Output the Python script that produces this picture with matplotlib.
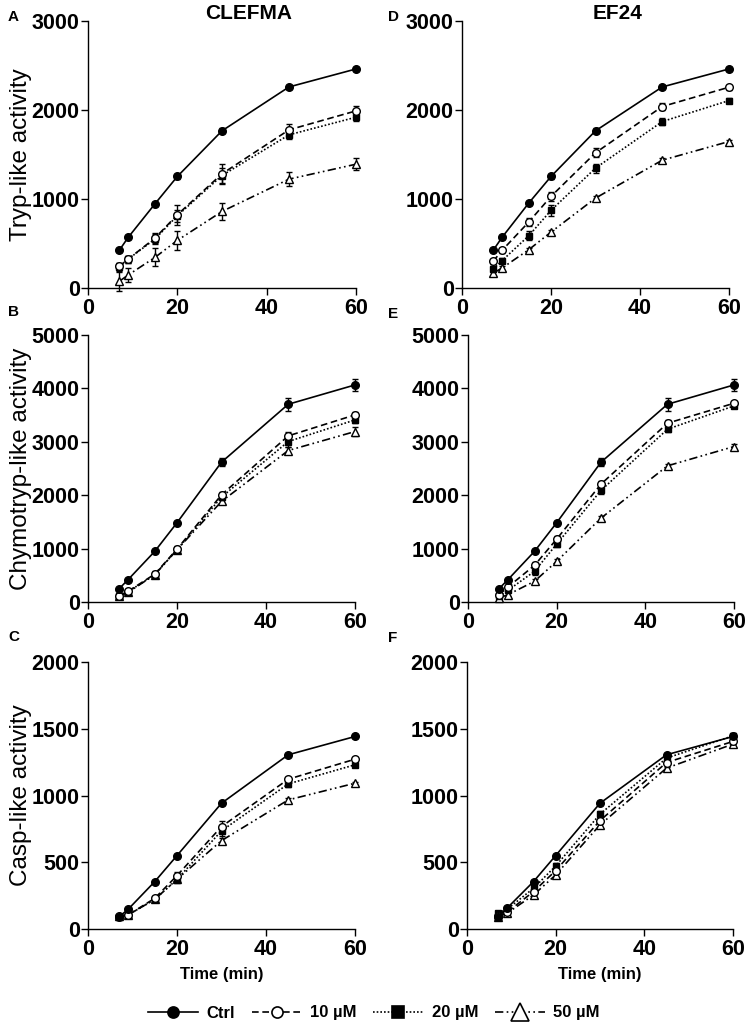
import numpy as np
import matplotlib
matplotlib.use("Agg")
import matplotlib.pyplot as plt
from matplotlib.lines import Line2D
from matplotlib.legend_handler import HandlerLine2D

plt.rcParams['font.family'] = ['Liberation Sans', 'DejaVu Sans']

# time points (min)
time = [7, 9, 15, 20, 30, 45, 60]
groups = ['Ctrl', '10 \u00b5M', '20 \u00b5M', '50 \u00b5M']

# rows: Ctrl, 10 uM, 20 uM, 50 uM
tryp_clefma = [[423, 569, 946, 1253, 1766, 2259, 2461],
               [243, 325, 561, 823, 1283, 1777, 1990],
               [236, 325, 550, 812, 1264, 1721, 1919],
               [75, 146, 344, 535, 860, 1223, 1391]]
tryp_clefma_err = [[15, 15, 25, 30, 30, 20, 20],
                   [40, 40, 60, 110, 110, 70, 55],
                   [40, 40, 60, 70, 80, 50, 40],
                   [110, 80, 100, 110, 100, 80, 70]]

tryp_ef24 = [[423, 569, 954, 1253, 1766, 2259, 2461],
             [299, 423, 741, 1029, 1519, 2039, 2256],
             [213, 307, 587, 872, 1347, 1870, 2106],
             [168, 224, 430, 628, 1010, 1436, 1646]]
tryp_ef24_err = [[15, 15, 25, 30, 30, 20, 20],
                 [30, 30, 40, 50, 50, 40, 30],
                 [30, 30, 50, 60, 50, 40, 30],
                 [20, 20, 20, 20, 20, 20, 20]]

chymo_clefma = [[249, 418, 948, 1484, 2618, 3703, 4065],
                [118, 200, 522, 990, 2007, 3111, 3504],
                [118, 193, 511, 979, 1964, 3005, 3410],
                [106, 180, 511, 979, 1883, 2837, 3192]]
chymo_clefma_err = [[20, 20, 20, 20, 80, 120, 110],
                    [30, 30, 50, 50, 60, 80, 60],
                    [30, 30, 50, 50, 60, 100, 60],
                    [30, 30, 40, 40, 40, 60, 80]]

chymo_ef24 = [[249, 418, 948, 1484, 2618, 3703, 4065],
              [137, 280, 686, 1178, 2207, 3348, 3722],
              [106, 218, 574, 1085, 2089, 3236, 3672],
              [75, 137, 387, 761, 1571, 2550, 2911]]
chymo_ef24_err = [[20, 20, 20, 20, 80, 120, 110],
                  [30, 40, 60, 60, 60, 60, 40],
                  [30, 40, 60, 60, 60, 60, 40],
                  [30, 30, 40, 40, 40, 40, 40]]

casp_clefma = [[92, 147, 355, 550, 942, 1305, 1442],
               [97, 105, 230, 400, 767, 1122, 1272],
               [92, 105, 222, 372, 735, 1087, 1230],
               [97, 105, 222, 372, 662, 967, 1092]]
casp_clefma_err = [[10, 10, 10, 10, 10, 10, 10],
                   [10, 10, 15, 30, 40, 20, 15],
                   [10, 10, 15, 25, 35, 20, 15],
                   [10, 10, 10, 15, 20, 15, 10]]

casp_ef24 = [[88, 155, 355, 550, 942, 1305, 1442],
             [97, 125, 280, 437, 812, 1247, 1405],
             [122, 147, 305, 472, 860, 1280, 1447],
             [92, 117, 255, 405, 780, 1205, 1385]]
casp_ef24_err = [[10, 10, 15, 15, 15, 15, 15],
                 [10, 10, 20, 25, 25, 30, 20],
                 [10, 10, 20, 25, 25, 20, 20],
                 [10, 10, 20, 25, 25, 20, 20]]

ylims = {'tryp': 3000, 'chymo': 5000, 'casp': 2000}
yticks = {'tryp': [0, 1000, 2000, 3000],
          'chymo': [0, 1000, 2000, 3000, 4000, 5000],
          'casp': [0, 500, 1000, 1500, 2000]}
ylabels = {'tryp': 'Tryp-like activity', 'chymo': 'Chymotryp-like activity',
           'casp': 'Casp-like activity'}

# styles for Ctrl, 10, 20, 50
styles = [dict(ls='-', marker='o', mfc='black'),
          dict(ls=(0, (4, 2.2)), marker='o', mfc='white'),
          dict(ls=(0, (1, 1.2)), marker='s', mfc='black'),
          dict(ls=(0, (5, 2, 1, 2, 1, 2)), marker='^', mfc='white')]

W, H = 748, 1026
fig = plt.figure(figsize=(W / 100, H / 100), dpi=100)


def rect(x0, x1, ytop, ybot):
    return [x0 / W, 1 - ybot / H, (x1 - x0) / W, (ybot - ytop) / H]


panels = [
    ('A', 'tryp', tryp_clefma, tryp_clefma_err, rect(88, 356, 21, 288), True),
    ('B', 'chymo', chymo_clefma, chymo_clefma_err, rect(88, 355, 335, 602), True),
    ('C', 'casp', casp_clefma, casp_clefma_err, rect(88, 355, 662, 929), True),
    ('D', 'tryp', tryp_ef24, tryp_ef24_err, rect(462, 729, 21, 288), False),
    ('E', 'chymo', chymo_ef24, chymo_ef24_err, rect(468, 734, 335, 602), False),
    ('F', 'casp', casp_ef24, casp_ef24_err, rect(467, 733, 662, 929), False),
]

letter_pos = {'A': (8, 17), 'B': (8, 312), 'C': (8, 637),
              'D': (388, 17), 'E': (388, 314), 'F': (388, 638)}

for letter, kind, means, errs, r, left in panels:
    ax = fig.add_axes(r)
    for i in range(3, -1, -1):
        st = styles[i]
        ax.errorbar(time, means[i], yerr=errs[i], color='black', ls=st['ls'],
                    lw=1.2, marker=st['marker'], mfc=st['mfc'], mec='black',
                    ms=5.5 if st['marker'] != 's' else 5, mew=1.0,
                    ecolor='black', elinewidth=1.0, capsize=2.5, capthick=1.0,
                    clip_on=False, zorder=3 + (3 - i))
    ax.set_xlim(0, 60)
    ax.set_ylim(0, ylims[kind])
    ax.set_xticks([0, 20, 40, 60])
    ax.set_yticks(yticks[kind])
    for s in ['top', 'right']:
        ax.spines[s].set_visible(False)
    for s in ['left', 'bottom']:
        ax.spines[s].set_linewidth(1.0)
    ax.tick_params(direction='out', length=5, width=1.0, labelsize=15.5)
    ax.tick_params(axis='y', pad=1)
    ax.tick_params(axis='x', pad=2)
    for lab in ax.get_xticklabels() + ax.get_yticklabels():
        lab.set_fontweight('bold')
    if left:
        ax.set_ylabel(ylabels[kind], fontsize=17.5)
        ax.yaxis.set_label_coords(-0.21, 0.5)
    if kind == 'casp':
        ax.set_xlabel('Time (min)', fontsize=12, fontweight='bold', labelpad=5)
    lx, ly = letter_pos[letter]
    fig.text(lx / W, 1 - ly / H, letter, fontsize=11, fontweight='bold',
             ha='left', va='center')

fig.text(249 / W, 1 - 14 / H, 'CLEFMA', fontsize=15, fontweight='bold',
         ha='center', va='center')
fig.text(618 / W, 1 - 14 / H, 'EF24', fontsize=15, fontweight='bold',
         ha='center', va='center')


class EndMarkerHandler(HandlerLine2D):
    # GraphPad-style legend: marker sits near the right end of the line
    def get_xdata(self, legend, xdescent, ydescent, width, height, fontsize):
        xdata = [-xdescent, -xdescent + width]
        return xdata, [-xdescent + 0.8 * width]


handles = []
leg_ms = [8, 8, 8, 13]
for st, ms in zip(styles, leg_ms):
    handles.append(Line2D([], [], color='black', ls=st['ls'], lw=1.2,
                          marker=st['marker'], mfc=st['mfc'], mec='black',
                          ms=ms, mew=1.2))

fig.legend(handles, groups, loc='center', bbox_to_anchor=(0.5, 1 - 1013 / H),
           ncol=4, frameon=False, handlelength=3.0, handletextpad=0.5,
           columnspacing=1.0, prop={'size': 12, 'weight': 'bold'},
           handler_map={Line2D: EndMarkerHandler()})

fig.savefig('out.png', dpi=100)
